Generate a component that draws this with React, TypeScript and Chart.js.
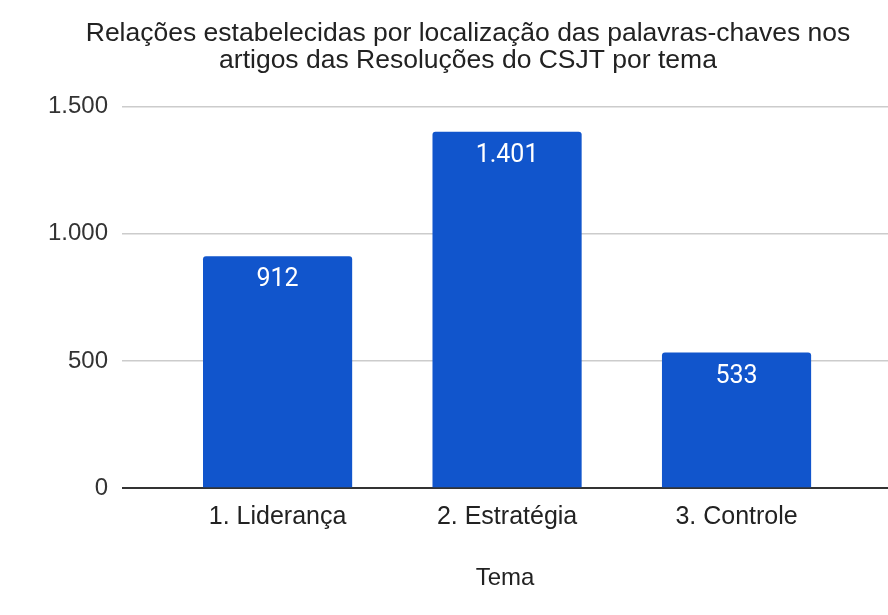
import React, { useEffect, useRef } from 'react';
import { Chart, registerables } from 'chart.js';

Chart.register(...registerables);

const titleLines = [
  'Relações estabelecidas por localização das palavras-chaves nos',
  'artigos das Resoluções do CSJT por tema',
];
const categories = ['1. Liderança', '2. Estratégia', '3. Controle'];
const values = [912, 1401, 533];
const valueLabels = ['912', '1.401', '533'];
const yTickValues = [0, 500, 1000, 1500];
const yTickLabels = ['0', '500', '1.000', '1.500'];
const xAxisTitle = 'Tema';

const FONT = '"Liberation Sans", Arial, Helvetica, sans-serif';
const BAR_COLOR = '#1155cc';

const valueLabelPlugin = {
  id: 'valueLabels',
  afterDatasetsDraw(chart: any) {
    const ctx = chart.ctx;
    const meta = chart.getDatasetMeta(0);
    ctx.save();
    ctx.fillStyle = '#ffffff';
    ctx.font = '25px Roboto, "Liberation Sans", sans-serif';
    ctx.textAlign = 'center';
    ctx.textBaseline = 'middle';
    meta.data.forEach((bar: any, i: number) => {
      ctx.fillText(valueLabels[i], bar.x, bar.y + 24);
    });
    ctx.restore();
  },
};

export default function App() {
  const canvasRef = useRef<HTMLCanvasElement | null>(null);

  useEffect(() => {
    const canvas = canvasRef.current;
    if (!canvas) return;
    const chart = new Chart(canvas, {
      type: 'bar',
      data: {
        datasets: [
          {
            data: values.map((v, i) => ({ x: i, y: v })),
            backgroundColor: BAR_COLOR,
            borderRadius: { topLeft: 3, topRight: 3, bottomLeft: 0, bottomRight: 0 },
            borderSkipped: false,
            barPercentage: 0.65,
            categoryPercentage: 1,
          },
        ],
      },
      options: {
        responsive: false,
        animation: false,
        devicePixelRatio: 1,
        layout: { padding: { left: 48, right: 0, top: 0, bottom: 0 } },
        plugins: {
          legend: { display: false },
          tooltip: { enabled: false },
          title: {
            display: true,
            text: titleLines,
            color: '#222222',
            font: { family: FONT, size: 26.5, weight: 'normal', lineHeight: 1.03 },
            padding: { top: 20, bottom: 32 },
          },
        },
        scales: {
          x: {
            type: 'linear',
            offset: false,
            bounds: 'data',
            min: -0.678,
            max: 2.66,
            afterDataLimits: (s: any) => {
              s.min = -0.678;
              s.max = 2.66;
            },
            afterBuildTicks: (s: any) => {
              s.ticks = categories.map((_, i) => ({ value: i }));
            },
            grid: { display: false, drawTicks: false, offset: false },
            border: { display: false },
            ticks: {
              callback: (v: any) => categories[v] ?? '',
              color: '#222222',
              font: { family: FONT, size: 25 },
              padding: 14,
              maxRotation: 0,
              autoSkip: false,
              includeBounds: false,
            },
            title: {
              display: true,
              text: xAxisTitle,
              color: '#222222',
              font: { family: FONT, size: 24 },
              padding: { top: 18, bottom: 22 },
            },
          },
          y: {
            min: 0,
            max: 1500,
            afterBuildTicks: (s: any) => {
              s.ticks = yTickValues.map((v) => ({ value: v }));
            },
            afterFit: (s: any) => {
              s.width = 74;
            },
            grid: {
              drawTicks: false,
              color: (c: any) => (c.tick && c.tick.value === 0 ? '#333333' : '#cccccc'),
              lineWidth: (c: any) => (c.tick && c.tick.value === 0 ? 2 : 1.5),
            },
            border: { display: false },
            ticks: {
              callback: (_v: any, i: number) => yTickLabels[i],
              color: '#333333',
              font: { family: FONT, size: 24 },
              padding: 14,
            },
          },
        },
      } as any,
      plugins: [valueLabelPlugin],
    });
    return () => chart.destroy();
  }, []);

  return (
    <div
      style={{
        position: 'fixed',
        left: 0,
        top: 0,
        width: 888,
        height: 615,
        background: '#ffffff',
        overflow: 'hidden',
      }}
    >
      <canvas ref={canvasRef} width={888} height={615} />
    </div>
  );
}
